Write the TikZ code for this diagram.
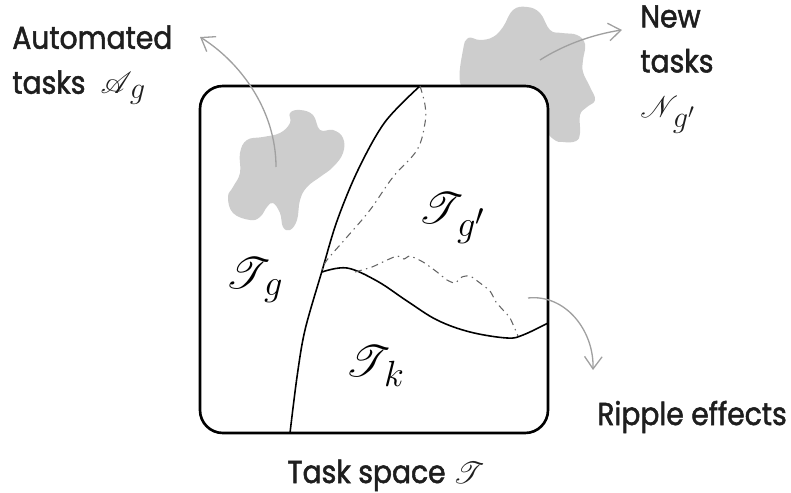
\documentclass[tikz,border=0pt]{standalone}
\usepackage{fontspec}
\setmainfont{Poppins}[FakeStretch=0.89, FakeBold=1.6]
\usepackage{mathrsfs}
\usetikzlibrary{arrows.meta}
\DeclareMathSizes{18}{18}{17}{13}
\DeclareMathSizes{28}{28}{22}{17}

\begin{document}
\begin{tikzpicture}[x=0.02cm, y=-0.02cm,
  blob/.style={fill=blobgray, draw=none},
  edge/.style={line width=0.9pt, line join=round, line cap=round},
  drift/.style={draw=driftgray, line width=0.6pt, dash pattern=on 4pt off 2.5pt on 0.8pt off 2.5pt},
  pointer/.style={draw=pointgray, line width=0.75pt, -{Straight Barb[length=7pt,width=10pt]}},
  caption/.style={text=inkgray, font=\fontsize{18}{25.6}\selectfont, inner sep=0pt},
  region/.style={font=\fontsize{28}{32}\selectfont, inner sep=0pt}]

  % Define custom colors
  \definecolor{blobgray}{RGB}{205, 205, 205}
  \definecolor{driftgray}{RGB}{100, 100, 100}
  \definecolor{pointgray}{RGB}{160, 160, 160}
  \definecolor{inkgray}{RGB}{30, 30, 30}
  \useasboundingbox (0,0) rectangle (791,493);
  % New tasks blob (partly behind the box)
  \fill[blob] plot[smooth cycle, tension=0.7] coordinates {(460,82) (463,50) (468,38) (480,40) (493,37) (503,27) (513,10) (527,7) (540,13) (550,30) (562,33) (577,35) (585,44) (583,60) (583,72) (590,87) (595,100) (587,107) (580,115) (580,133) (576,141) (563,142) (552,138) (530,115) (500,100) (472,95)};
  % Task space
  \draw[line width=1.5pt, rounded corners=13pt, fill=white] (200,86) rectangle (548,433);
  % Automated tasks blob
  \fill[blob] plot[smooth cycle, tension=0.7] coordinates {(290,113) (300,110) (313,115) (320,130) (333,130) (343,138) (343,153) (333,167) (320,177) (307,187) (300,200) (297,220) (290,230) (283,227) (280,213) (273,203) (267,207) (260,217) (250,220) (233,213) (228,197) (233,187) (240,173) (240,153) (247,140) (263,137) (280,133) (290,123)};
  % Boundaries
  \draw[edge] plot[smooth, tension=0.55] coordinates {(290,433) (297,377) (305,330) (322,271) (337,221) (358,170) (385,122) (420,86)};
  \draw[edge] plot[smooth, tension=0.6] coordinates {(322,272) (347,268) (377,281) (407,301) (437,320) (470,332) (507,338) (523,335) (548,323)};
  % Shifted boundaries
  \draw[drift] plot[smooth, tension=0.6] coordinates {(420,86) (425,105) (425,123) (417,150) (393,177) (370,210) (347,237) (327,260) (322,270)};
  \draw[drift] plot[smooth, tension=0.35] coordinates {(355,272) (372,267) (385,261) (397,256) (404,259) (410,256) (423,262) (437,272) (447,280) (455,283) (462,277) (470,276) (480,283) (490,291) (496,302) (503,310) (510,318) (518,336)};
  % Region labels
  \node[region, anchor=base west] (Tg) at (225,289) {$\mathscr{T}_{\,g}$};
  \node[region, anchor=base west] (Tgp) at (418,224) {$\mathscr{T}_{\,g'}$};
  \node[region, anchor=base west] (Tk) at (345,376) {$\mathscr{T}_{\,k}$};
  % Captions
  \node[caption, anchor=north west, align=left] (auto) at (12,25) {Automated\\tasks\ \ $\mathscr{A}_{\,g}$};
  \node[caption, anchor=north west, align=left] (newtasks) at (640,5) {New\\tasks\\$\mathscr{N}_{\,g'}$};
  \node[caption, anchor=base west] (ripple) at (597,425) {Ripple effects};
  \node[caption, anchor=base west] (space) at (287,483) {Task space $\mathscr{T}$};
  % Pointers
  \coordinate (autofrom) at (276,167);
  \coordinate (autoto) at (200,37);
  \coordinate (newfrom) at (540,60);
  \coordinate (newto) at (622,30);
  \coordinate (ripplefrom) at (528,298);
  \coordinate (rippleto) at (593,370);
  \draw[pointer] (autofrom) .. controls (276,110) and (240,62) .. (autoto);
  \draw[pointer] (newfrom) .. controls (565,44) and (595,34) .. (newto);
  \draw[pointer] (ripplefrom) .. controls (565,294) and (594,330) .. (rippleto);

\end{tikzpicture}
\end{document}
